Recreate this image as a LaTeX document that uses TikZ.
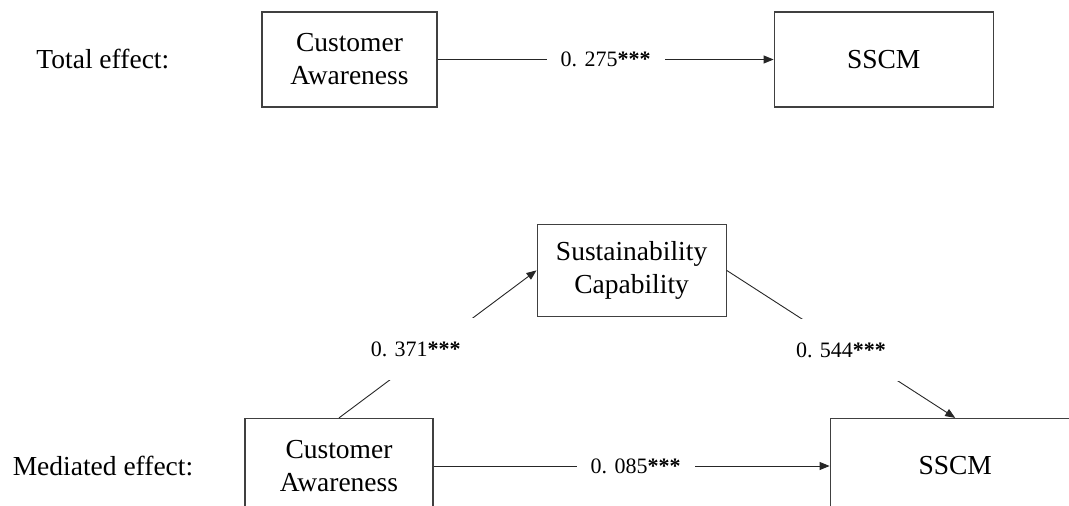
\documentclass[tikz,border=0pt]{standalone}
\usepackage{fontspec}
\setmainfont{Liberation Serif}
\usetikzlibrary{arrows.meta, positioning}

\begin{document}
\begin{tikzpicture}[
  factor/.style={rectangle, draw=black!75, line width=1.2pt, align=center, inner sep=0pt, font=\fontsize{27.5pt}{33pt}\selectfont},
  effect/.style={inner sep=0pt, font=\fontsize{27.5pt}{33pt}\selectfont},
  coef/.style={fill=white, inner xsep=14pt, font=\fontsize{22pt}{26pt}\selectfont},
  arrow/.style={-{Triangle[length=10pt, width=8pt]}, line width=0.9pt, draw=black!85}
]
  \useasboundingbox (0,0) rectangle (1069pt,-506pt);

  % Total effect
  \node[factor, minimum width=175pt, minimum height=95pt] (ca1) at (349.5pt,-59.5pt) {Customer\\Awareness};
  \node[factor, minimum width=219pt, minimum height=95pt, right=336pt of ca1] (sscm1) {SSCM};
  \node[effect, left=92pt of ca1] (total) {Total effect:};

  % Mediated effect
  \node[factor, minimum width=188pt, minimum height=95pt] (ca2) at (339pt,-466pt) {Customer\\Awareness};
  \node[factor, minimum width=250pt, minimum height=95pt, right=396pt of ca2] (sscm2) {SSCM};
  \node[effect, left=51pt of ca2] (mediated) {Mediated effect:};
  \path (ca2.east) -- (sscm2.west) coordinate[midway] (mid);
  \node[factor, minimum width=189pt, minimum height=92pt, above=149pt of mid] (sc) {Sustainability\\Capability};

  % Arrows
  \draw[arrow] (ca1) -- node[coef] {0. 275\textbf{***}} (sscm1);
  \draw[arrow] (ca2) -- node[coef, xshift=4pt] {0. 085\textbf{***}} (sscm2);
  \draw[arrow] (ca2.north) -- node[coef, minimum width=130pt, minimum height=62pt, xshift=-22pt, yshift=-5pt] {0. 371\textbf{***}} (sc.west);
  \draw[arrow] (sc.east) -- node[coef, minimum width=120pt, minimum height=62pt, yshift=-6pt] {0. 544\textbf{***}} (sscm2.north);
\end{tikzpicture}
\end{document}
